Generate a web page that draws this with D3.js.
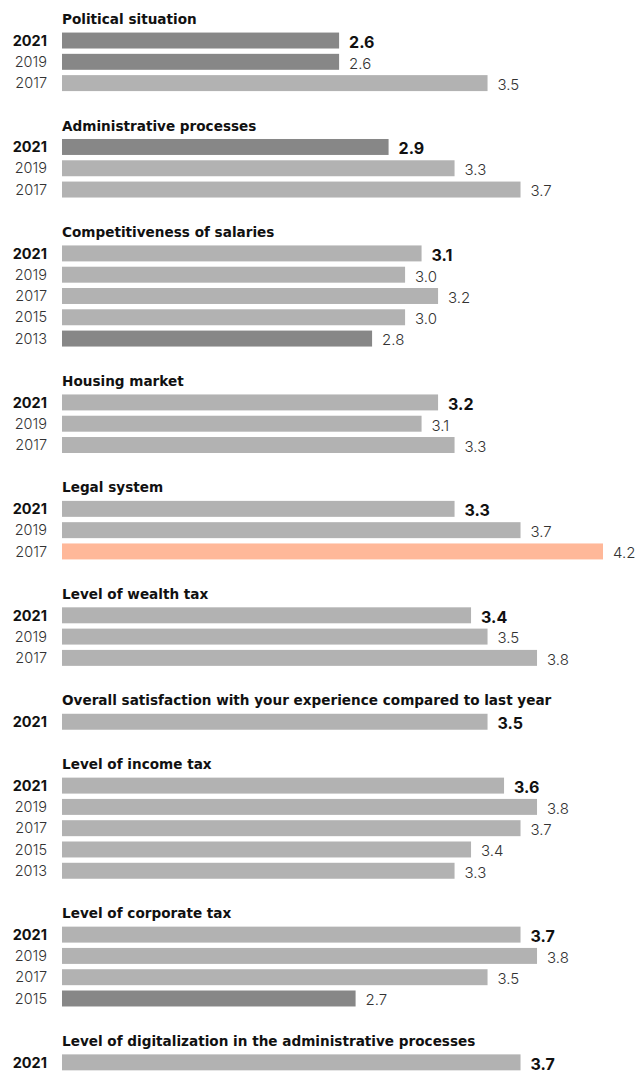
<!DOCTYPE html>
<html>
<head>
<meta charset="utf-8">
<script src="https://cdn.jsdelivr.net/npm/d3@7"></script>
<style>
  html, body { margin: 0; padding: 0; background: #fff; }
  svg { display: block; }
  text { font-family: Inter, "Open Sans", sans-serif; }
  .topic { font-family: "DejaVu Sans", Inter, sans-serif; }
</style>
</head>
<body>
<svg id="chart" width="644" height="1073"></svg>
<script>
// Survey topics, in display order
const topics = [
  "Political situation",
  "Administrative processes",
  "Competitiveness of salaries",
  "Housing market",
  "Legal system",
  "Level of wealth tax",
  "Overall satisfaction with your experience compared to last year",
  "Level of income tax",
  "Level of corporate tax",
  "Level of digitalization in the administrative processes"
];

// Survey years shown per topic
const topicYears = [
  ["2021", "2019", "2017"],
  ["2021", "2019", "2017"],
  ["2021", "2019", "2017", "2015", "2013"],
  ["2021", "2019", "2017"],
  ["2021", "2019", "2017"],
  ["2021", "2019", "2017"],
  ["2021"],
  ["2021", "2019", "2017", "2015", "2013"],
  ["2021", "2019", "2017", "2015"],
  ["2021"]
];

// Average scores per topic, same order as the years
const topicScores = [
  [2.6, 2.6, 3.5],
  [2.9, 3.3, 3.7],
  [3.1, 3.0, 3.2, 3.0, 2.8],
  [3.2, 3.1, 3.3],
  [3.3, 3.7, 4.2],
  [3.4, 3.5, 3.8],
  [3.5],
  [3.6, 3.8, 3.7, 3.4, 3.3],
  [3.7, 3.8, 3.5, 2.7],
  [3.7]
];

// Bar emphasis: "low" = darker grey, "high" = salmon, otherwise neutral
const topicMarks = [
  ["low", "low", ""],
  ["low", "", ""],
  ["", "", "", "", "low"],
  ["", "", ""],
  ["", "", "high"],
  ["", "", ""],
  [""],
  ["", "", "", "", ""],
  ["", "", "", "low"],
  [""]
];

const colors = { "": "#b2b2b2", low: "#878787", high: "#ffb899" };

// Flatten into a single list of rows: spacer, title, then one row per year
const rows = [];
topics.forEach((t, i) => {
  if (i > 0) rows.push({ id: "gap" + i, type: "gap" });
  rows.push({ id: "title" + i, type: "title", text: t });
  topicYears[i].forEach((yr, j) => {
    rows.push({
      id: "bar" + i + "-" + j,
      type: "bar",
      year: yr,
      value: topicScores[i][j],
      mark: topicMarks[i][j],
      latest: j === 0
    });
  });
});

const svg = d3.select("#chart");
const barLeft = 62;

const y = d3.scaleBand()
  .domain(rows.map(r => r.id))
  .range([8.6, 1073])
  .paddingInner(0.25)
  .paddingOuter(0.125);

const x = d3.scaleLinear()
  .domain([0.92, 4.2])
  .range([barLeft, 603]);

const barRows = rows.filter(r => r.type === "bar");
const titleRows = rows.filter(r => r.type === "title");

// Topic headings
svg.append("g").selectAll("text")
  .data(titleRows)
  .join("text")
  .attr("class", "topic")
  .attr("x", barLeft)
  .attr("y", d => y(d.id) + y.bandwidth() / 2)
  .attr("dy", "0.36em")
  .attr("font-size", 13.6)
  .attr("font-weight", 700)
  .attr("fill", "#111")
  .text(d => d.text);

// Bars
svg.append("g").selectAll("rect")
  .data(barRows)
  .join("rect")
  .attr("x", barLeft)
  .attr("y", d => y(d.id))
  .attr("width", d => x(d.value) - barLeft)
  .attr("height", y.bandwidth())
  .attr("fill", d => colors[d.mark]);

// Year labels
svg.append("g").selectAll("text")
  .data(barRows)
  .join("text")
  .attr("x", 47)
  .attr("y", d => y(d.id) + y.bandwidth() / 2)
  .attr("dy", "0.36em")
  .attr("text-anchor", "end")
  .attr("font-size", 14.5)
  .attr("font-weight", d => d.latest ? 700 : 300)
  .attr("fill", d => d.latest ? "#111" : "#333")
  .text(d => d.year);

// Value labels
svg.append("g").selectAll("text")
  .data(barRows)
  .join("text")
  .attr("x", d => x(d.value) + 10)
  .attr("y", d => y(d.id) + y.bandwidth() / 2 + 1.5)
  .attr("dy", "0.36em")
  .attr("font-size", d => d.latest ? 16 : 15)
  .attr("font-weight", d => d.latest ? 700 : 300)
  .attr("fill", d => d.latest ? "#111" : "#333")
  .text(d => d3.format(".1f")(d.value));
</script>
</body>
</html>
